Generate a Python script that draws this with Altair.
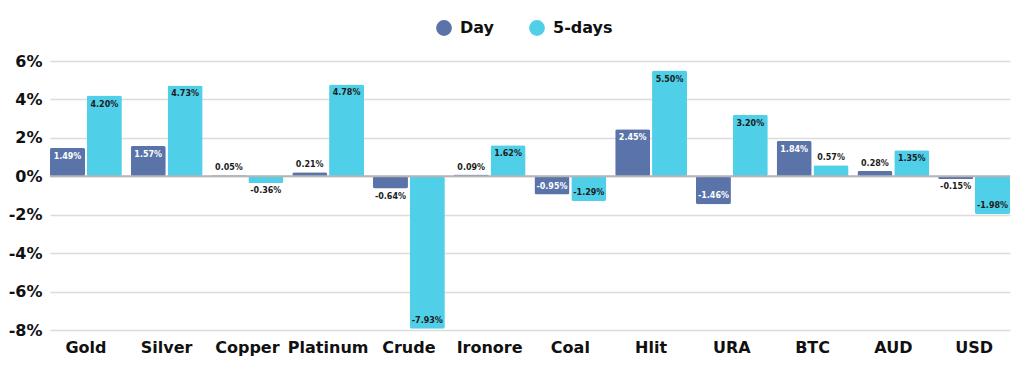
import altair as alt
import pandas as pd

categories = ["Gold", "Silver", "Copper", "Platinum", "Crude", "Ironore",
              "Coal", "Hlit", "URA", "BTC", "AUD", "USD"]
day_values = [1.49, 1.57, 0.05, 0.21, -0.64, 0.09, -0.95, 2.45, -1.46, 1.84, 0.28, -0.15]
five_day_values = [4.20, 4.73, -0.36, 4.78, -7.93, 1.62, -1.29, 5.50, 3.20, 0.57, 1.35, -1.98]
series_names = ["Day", "5-days"]
y_ticks = [-8, -6, -4, -2, 0, 2, 4, 6]

rows = []
for i, c in enumerate(categories):
    for s, vals in zip(series_names, [day_values, five_day_values]):
        v = vals[i]
        if v >= 0.8:
            pos = "in_top"
        elif v >= 0:
            pos = "out_top"
        elif v <= -0.8:
            pos = "in_bot"
        else:
            pos = "out_bot"
        inside = pos.startswith("in")
        lc = "white" if (inside and s == "Day") else "#1b1b1b"
        rows.append({"cat": c, "series": s, "value": v, "pos": pos, "lc": lc})
df = pd.DataFrame(rows)

FONT = "DejaVu Sans"
colors = ["#5A74AA", "#50CFE8"]

x_axis = alt.Axis(labelAngle=0, labelFontSize=16, labelFontWeight="bold",
                  labelColor="#111", labelFont=FONT, ticks=False, domain=False,
                  labelPadding=9)
x_scale = alt.Scale(paddingInner=0.11, paddingOuter=0)
xo_scale = alt.Scale(paddingInner=0.05)
y_scale = alt.Scale(domain=[-8, 6], nice=False)
y_axis = alt.Axis(values=y_ticks, tickCount=8, labelExpr="datum.value + '%'", labelOverlap=False,
                  labelFontSize=16, labelFontWeight="bold", labelColor="#111",
                  labelFont=FONT, ticks=False, domain=False, labelPadding=8,
                  gridColor="#dcdcdc", gridWidth=1.5)

def xe():
    return alt.X("cat:N", sort=categories, title=None, scale=x_scale, axis=x_axis)

def xoe():
    return alt.XOffset("series:N", sort=series_names, scale=xo_scale)

def ye(field="value"):
    return alt.Y(f"{field}:Q", title=None, scale=y_scale, axis=y_axis)

base = alt.Chart(df)

bars = base.mark_bar(cornerRadius=2).encode(
    x=xe(), xOffset=xoe(), y=ye(),
    color=alt.Color("series:N", sort=series_names,
                    scale=alt.Scale(domain=series_names, range=colors),
                    legend=alt.Legend(title=None, orient="none", direction="horizontal",
                                      legendX=386, legendY=-41,
                                      symbolType="circle", symbolSize=250, symbolStrokeWidth=0,
                                      labelFontSize=16, labelFontWeight="bold", labelFont=FONT,
                                      labelColor="#111", columnPadding=34, labelOffset=8,
                                      padding=0))
)

zero = alt.Chart(pd.DataFrame({"value": [0]})).mark_rule(color="#b5b5b5", strokeWidth=2).encode(
    y=ye())

def labels(pos, baseline, dy):
    return base.transform_filter(alt.datum.pos == pos).transform_calculate(
        lab="(datum.value < 0 ? '-' : '') + format(abs(datum.value), '.2f') + '%'"
    ).mark_text(baseline=baseline, dy=dy, fontSize=8, fontWeight="bold", font=FONT).encode(
        x=xe(), xOffset=xoe(), y=ye(), text="lab:N",
        color=alt.Color("lc:N", scale=None, legend=None))

chart = alt.layer(
    bars, zero,
    labels("in_top", "top", 5), labels("out_top", "bottom", -3),
    labels("in_bot", "bottom", -4), labels("out_bot", "top", 4),
).properties(width=960, height=269, padding={"left": 0, "top": 12, "right": 5, "bottom": 5}
).configure_view(stroke=None)

chart.save("out.html", embed_options={"renderer": "svg", "actions": False})
